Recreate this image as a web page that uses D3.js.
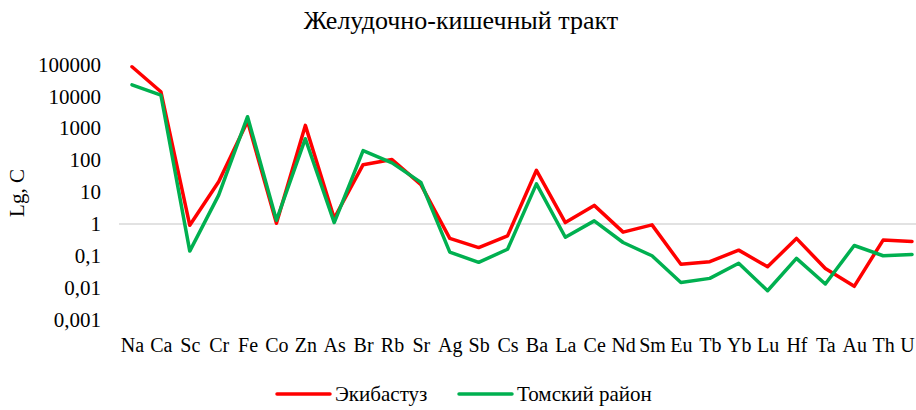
<!DOCTYPE html>
<html>
<head>
<meta charset="utf-8">
<script src="https://cdn.jsdelivr.net/npm/d3@7"></script>
<style>
  html, body { margin: 0; padding: 0; background: #fff; }
  svg { display: block; }
  svg text { font-family: "Liberation Serif", "Times New Roman", serif !important; fill: #000; }
</style>
</head>
<body>
<svg id="chart" width="916" height="410"></svg>
<script>
// Element order along the x axis
const elements = ["Na","Ca","Sc","Cr","Fe","Co","Zn","As","Br","Rb","Sr","Ag","Sb","Cs","Ba","La","Ce","Nd","Sm","Eu","Tb","Yb","Lu","Hf","Ta","Au","Th","U"];

// Concentrations, Экибастуз
const ekibastuz = [85000, 14000, 0.9, 21, 1650, 1.05, 1230, 1.5, 72, 105, 17, 0.35, 0.18, 0.42, 48, 1.1, 3.8, 0.55, 0.93, 0.054, 0.065, 0.15, 0.045, 0.35, 0.04, 0.011, 0.31, 0.28];

// Concentrations, Томский район
const tomsk = [23000, 11000, 0.14, 8, 2300, 1.3, 470, 1.1, 200, 82, 20, 0.13, 0.062, 0.16, 18, 0.38, 1.24, 0.26, 0.1, 0.0145, 0.0195, 0.058, 0.008, 0.083, 0.013, 0.21, 0.1, 0.11];

// Log-axis ticks and their labels
const yTicks = [100000, 10000, 1000, 100, 10, 1, 0.1, 0.01, 0.001];
const yTickLabels = ["100000", "10000", "1000", "100", "10", "1", "0,1", "0,01", "0,001"];

const seriesNames = ["Экибастуз", "Томский район"];
const seriesColors = ["#FF0000", "#00B050"];

const svg = d3.select("#chart");

const x = d3.scalePoint().domain(elements).range([132, 912]);
const y = d3.scaleLog().domain([0.001, 100000]).range([319.5, 64.5]);

// Title
svg.append("text")
  .attr("x", 461).attr("y", 28.5)
  .attr("text-anchor", "middle")
  .style("font-size", "26px")
  .text("Желудочно-кишечный тракт");

// Axis title
svg.append("text")
  .attr("transform", "translate(24,193) rotate(-90)")
  .attr("text-anchor", "middle")
  .style("font-size", "21px")
  .text("Lg, C");

// Horizontal axis line crossing at 1
svg.append("line")
  .attr("x1", 119).attr("x2", 916)
  .attr("y1", y(1)).attr("y2", y(1))
  .attr("stroke", "#D9D9D9").attr("stroke-width", 1.5);

// Y axis labels
const yAxis = d3.axisLeft(y)
  .tickValues(yTicks)
  .tickFormat((d, i) => yTickLabels[i])
  .tickSize(0).tickPadding(0);
const gy = svg.append("g").attr("transform", "translate(101,0)").call(yAxis);
gy.select(".domain").remove();
gy.selectAll("text").style("font-size", "21px");

// X axis labels
const xAxis = d3.axisBottom(x).tickSize(0).tickPadding(0);
const gx = svg.append("g").attr("transform", "translate(0,337.5)").call(xAxis);
gx.select(".domain").remove();
gx.selectAll("text").style("font-size", "20px");
// keep the last label inside the right edge
gx.selectAll(".tick").filter(d => d === "U").select("text").attr("x", -5);

// Series lines
const line = d3.line()
  .x((d, i) => x(elements[i]))
  .y(d => y(d));

[ekibastuz, tomsk].forEach((vals, k) => {
  svg.append("path")
    .datum(vals)
    .attr("fill", "none")
    .attr("stroke", seriesColors[k])
    .attr("stroke-width", 3.5)
    .attr("stroke-linejoin", "round")
    .attr("stroke-linecap", "round")
    .attr("d", line);
});

// Legend
const legendX = [277, 459];
seriesNames.forEach((name, k) => {
  const g = svg.append("g").attr("transform", `translate(${legendX[k]},394)`);
  g.append("line")
    .attr("x1", 0).attr("x2", 53)
    .attr("stroke", seriesColors[k])
    .attr("stroke-width", 3.5)
    .attr("stroke-linecap", "round");
  g.append("text")
    .attr("x", 58).attr("y", 7)
    .style("font-size", "21px")
    .text(name);
});
</script>
</body>
</html>
